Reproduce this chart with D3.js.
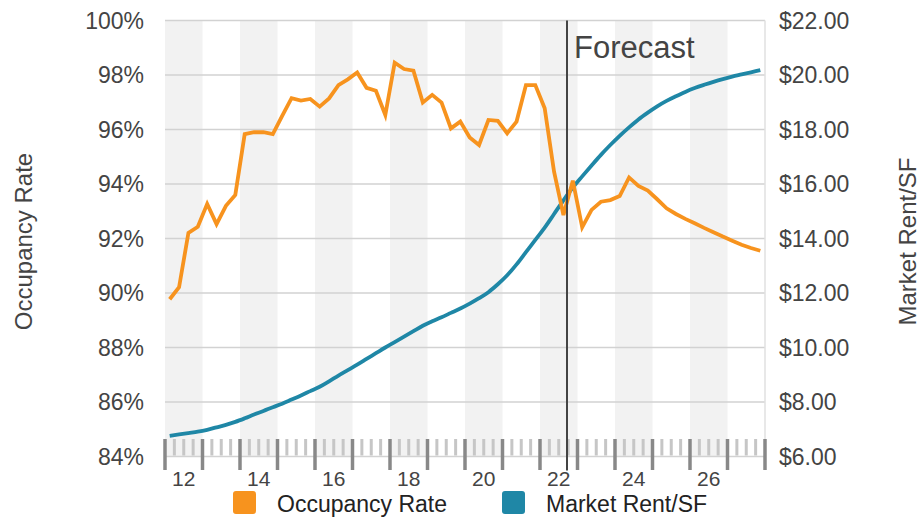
<!DOCTYPE html>
<html>
<head>
<meta charset="utf-8">
<script src="https://d3js.org/d3.v7.min.js"></script>
<style>
  body { margin: 0; background: #fff; }
  text { font-family: "Liberation Sans", Arial, Helvetica, sans-serif; }
</style>
</head>
<body>
<div id="chart"></div>
<script>
// Quarterly data, 2012 Q1 - 2027 Q4
const startYear = 2012;
const endYear = 2028;
const forecastStart = 2022.72;

const occupancy = [
  89.77, 90.21, 92.21, 92.43, 93.27, 92.53, 93.2, 93.6,
  95.83, 95.9, 95.9, 95.83, 96.5, 97.15, 97.06, 97.12,
  96.84, 97.14, 97.63, 97.84, 98.09, 97.53, 97.42, 96.53,
  98.45, 98.22, 98.16, 96.99, 97.27, 96.99, 96.04, 96.29,
  95.71, 95.43, 96.35, 96.32, 95.86, 96.29, 97.63, 97.63,
  96.78, 94.45, 92.86, 94.12, 92.41, 93.05, 93.35, 93.41,
  93.56, 94.24, 93.93, 93.76, 93.44, 93.11, 92.9, 92.72,
  92.56, 92.39, 92.23, 92.07, 91.92, 91.77, 91.65, 91.55
];

const rent = [
  6.76, 6.81, 6.86, 6.91, 6.98, 7.07, 7.16, 7.27,
  7.40, 7.54, 7.67, 7.81, 7.94, 8.09, 8.24, 8.40,
  8.56, 8.76, 8.97, 9.17, 9.37, 9.58, 9.79, 10.0,
  10.2, 10.4, 10.6, 10.8, 10.96, 11.11, 11.27, 11.43,
  11.61, 11.81, 12.03, 12.32, 12.65, 13.05, 13.5, 13.95,
  14.4, 14.9, 15.4, 15.87, 16.28, 16.68, 17.07, 17.43,
  17.77, 18.08, 18.37, 18.62, 18.85, 19.05, 19.22, 19.38,
  19.52, 19.64, 19.75, 19.85, 19.94, 20.02, 20.10, 20.18
];

const occTicks = [84, 86, 88, 90, 92, 94, 96, 98, 100];
const rentTicks = [6, 8, 10, 12, 14, 16, 18, 20, 22];
const yearLabels = [2012, 2014, 2016, 2018, 2020, 2022, 2024, 2026];

const seriesNames = ["Occupancy Rate", "Market Rent/SF"];
const colors = ["#f7931e", "#1f87a6"];

// Chart dimensions
const width = 922;
const height = 517;
const margin = { top: 20.5, right: 157, bottom: 60.5, left: 165 };

const svg = d3.select("#chart")
  .append("svg")
  .attr("width", width)
  .attr("height", height);

const x = d3.scaleLinear()
  .domain([startYear, endYear])
  .range([margin.left, width - margin.right]);

const yOcc = d3.scaleLinear()
  .domain([84, 100])
  .range([height - margin.bottom, margin.top]);

const yRent = d3.scaleLinear()
  .domain([6, 22])
  .range([height - margin.bottom, margin.top]);

const years = d3.range(startYear, endYear);
const quarterEdges = d3.range(startYear * 4, endYear * 4 + 1).map(d => d / 4);
const quarterMid = (i) => startYear + (i + 0.5) / 4;

// Alternating year bands
svg.append("g")
  .selectAll("rect")
  .data(years.filter(d => d % 2 === 0))
  .join("rect")
  .attr("x", d => x(d))
  .attr("y", margin.top)
  .attr("width", d => x(d + 1) - x(d))
  .attr("height", yOcc(84) - margin.top)
  .attr("fill", "#f2f2f2");

// Horizontal grid lines
svg.append("g")
  .selectAll("line")
  .data(occTicks)
  .join("line")
  .attr("x1", margin.left)
  .attr("x2", width - margin.right)
  .attr("y1", d => yOcc(d))
  .attr("y2", d => yOcc(d))
  .attr("stroke", "#d2d2d2")
  .attr("stroke-width", 1.5);

// right border
svg.append("line")
  .attr("x1", width - margin.right)
  .attr("x2", width - margin.right)
  .attr("y1", margin.top)
  .attr("y2", yOcc(84))
  .attr("stroke", "#e0e0e0")
  .attr("stroke-width", 1.5);

// Quarter ticks (light) and year ticks (dark)
const axisY = yOcc(84);
svg.append("g")
  .selectAll("line")
  .data(quarterEdges.filter(d => d % 1 !== 0))
  .join("line")
  .attr("x1", d => x(d))
  .attr("x2", d => x(d))
  .attr("y1", axisY - 17.5)
  .attr("y2", axisY - 1)
  .attr("stroke", "#c6c6c6")
  .attr("stroke-width", 3);

svg.append("g")
  .selectAll("line")
  .data(quarterEdges.filter(d => d % 1 === 0))
  .join("line")
  .attr("x1", d => x(d))
  .attr("x2", d => x(d))
  .attr("y1", axisY - 17.5)
  .attr("y2", axisY + 13.5)
  .attr("stroke", "#888")
  .attr("stroke-width", 3.5);

// X labels
svg.append("g")
  .selectAll("text")
  .data(yearLabels)
  .join("text")
  .attr("x", d => x(d + 0.5))
  .attr("y", axisY + 29)
  .attr("text-anchor", "middle")
  .attr("font-size", 21)
  .attr("fill", "#444")
  .text(d => String(d).slice(2));

// Left axis labels
svg.append("g")
  .selectAll("text")
  .data(occTicks)
  .join("text")
  .attr("x", margin.left - 21)
  .attr("y", d => yOcc(d))
  .attr("dy", "0.36em")
  .attr("text-anchor", "end")
  .attr("font-size", 23)
  .attr("fill", "#444")
  .text(d => d + "%");

// Right axis labels
svg.append("g")
  .selectAll("text")
  .data(rentTicks)
  .join("text")
  .attr("x", width - margin.right + 14)
  .attr("y", d => yRent(d))
  .attr("dy", "0.36em")
  .attr("text-anchor", "start")
  .attr("font-size", 23)
  .attr("fill", "#444")
  .text(d => "$" + d3.format(".2f")(d));

// Axis titles
svg.append("text")
  .attr("transform", `translate(32, ${(margin.top + axisY) / 2 + 3}) rotate(-90)`)
  .attr("text-anchor", "middle")
  .attr("font-size", 24)
  .attr("fill", "#444")
  .text(seriesNames[0]);

svg.append("text")
  .attr("transform", `translate(916, ${(margin.top + axisY) / 2 + 3}) rotate(-90)`)
  .attr("text-anchor", "middle")
  .attr("font-size", 24)
  .attr("fill", "#444")
  .text(seriesNames[1]);

// Lines
const lineOcc = d3.line()
  .x((d, i) => x(quarterMid(i)))
  .y(d => yOcc(d));

const lineRent = d3.line()
  .x((d, i) => x(quarterMid(i)))
  .y(d => yRent(d))
  .curve(d3.curveMonotoneX);

svg.append("path")
  .datum(rent)
  .attr("d", lineRent)
  .attr("fill", "none")
  .attr("stroke", colors[1])
  .attr("stroke-width", 3.8);

svg.append("path")
  .datum(occupancy)
  .attr("d", lineOcc)
  .attr("fill", "none")
  .attr("stroke", colors[0])
  .attr("stroke-width", 3.8)
  .attr("stroke-linejoin", "miter");

// Forecast marker
svg.append("line")
  .attr("x1", x(forecastStart))
  .attr("x2", x(forecastStart))
  .attr("y1", margin.top)
  .attr("y2", axisY + 14)
  .attr("stroke", "#444")
  .attr("stroke-width", 2);

svg.append("text")
  .attr("x", x(forecastStart) + 7)
  .attr("y", 58)
  .attr("font-size", 31)
  .attr("fill", "#444")
  .text("Forecast");

// Legend
const legendX = [233, 502];
const legend = svg.append("g")
  .selectAll("g")
  .data(seriesNames)
  .join("g")
  .attr("transform", (d, i) => `translate(${legendX[i]}, 491)`);

legend.append("rect")
  .attr("width", 23)
  .attr("height", 23)
  .attr("rx", 3)
  .attr("fill", (d, i) => colors[i]);

legend.append("text")
  .attr("x", 44)
  .attr("y", 20.5)
  .attr("font-size", 23)
  .attr("fill", "#222")
  .text(d => d);
</script>
</body>
</html>
